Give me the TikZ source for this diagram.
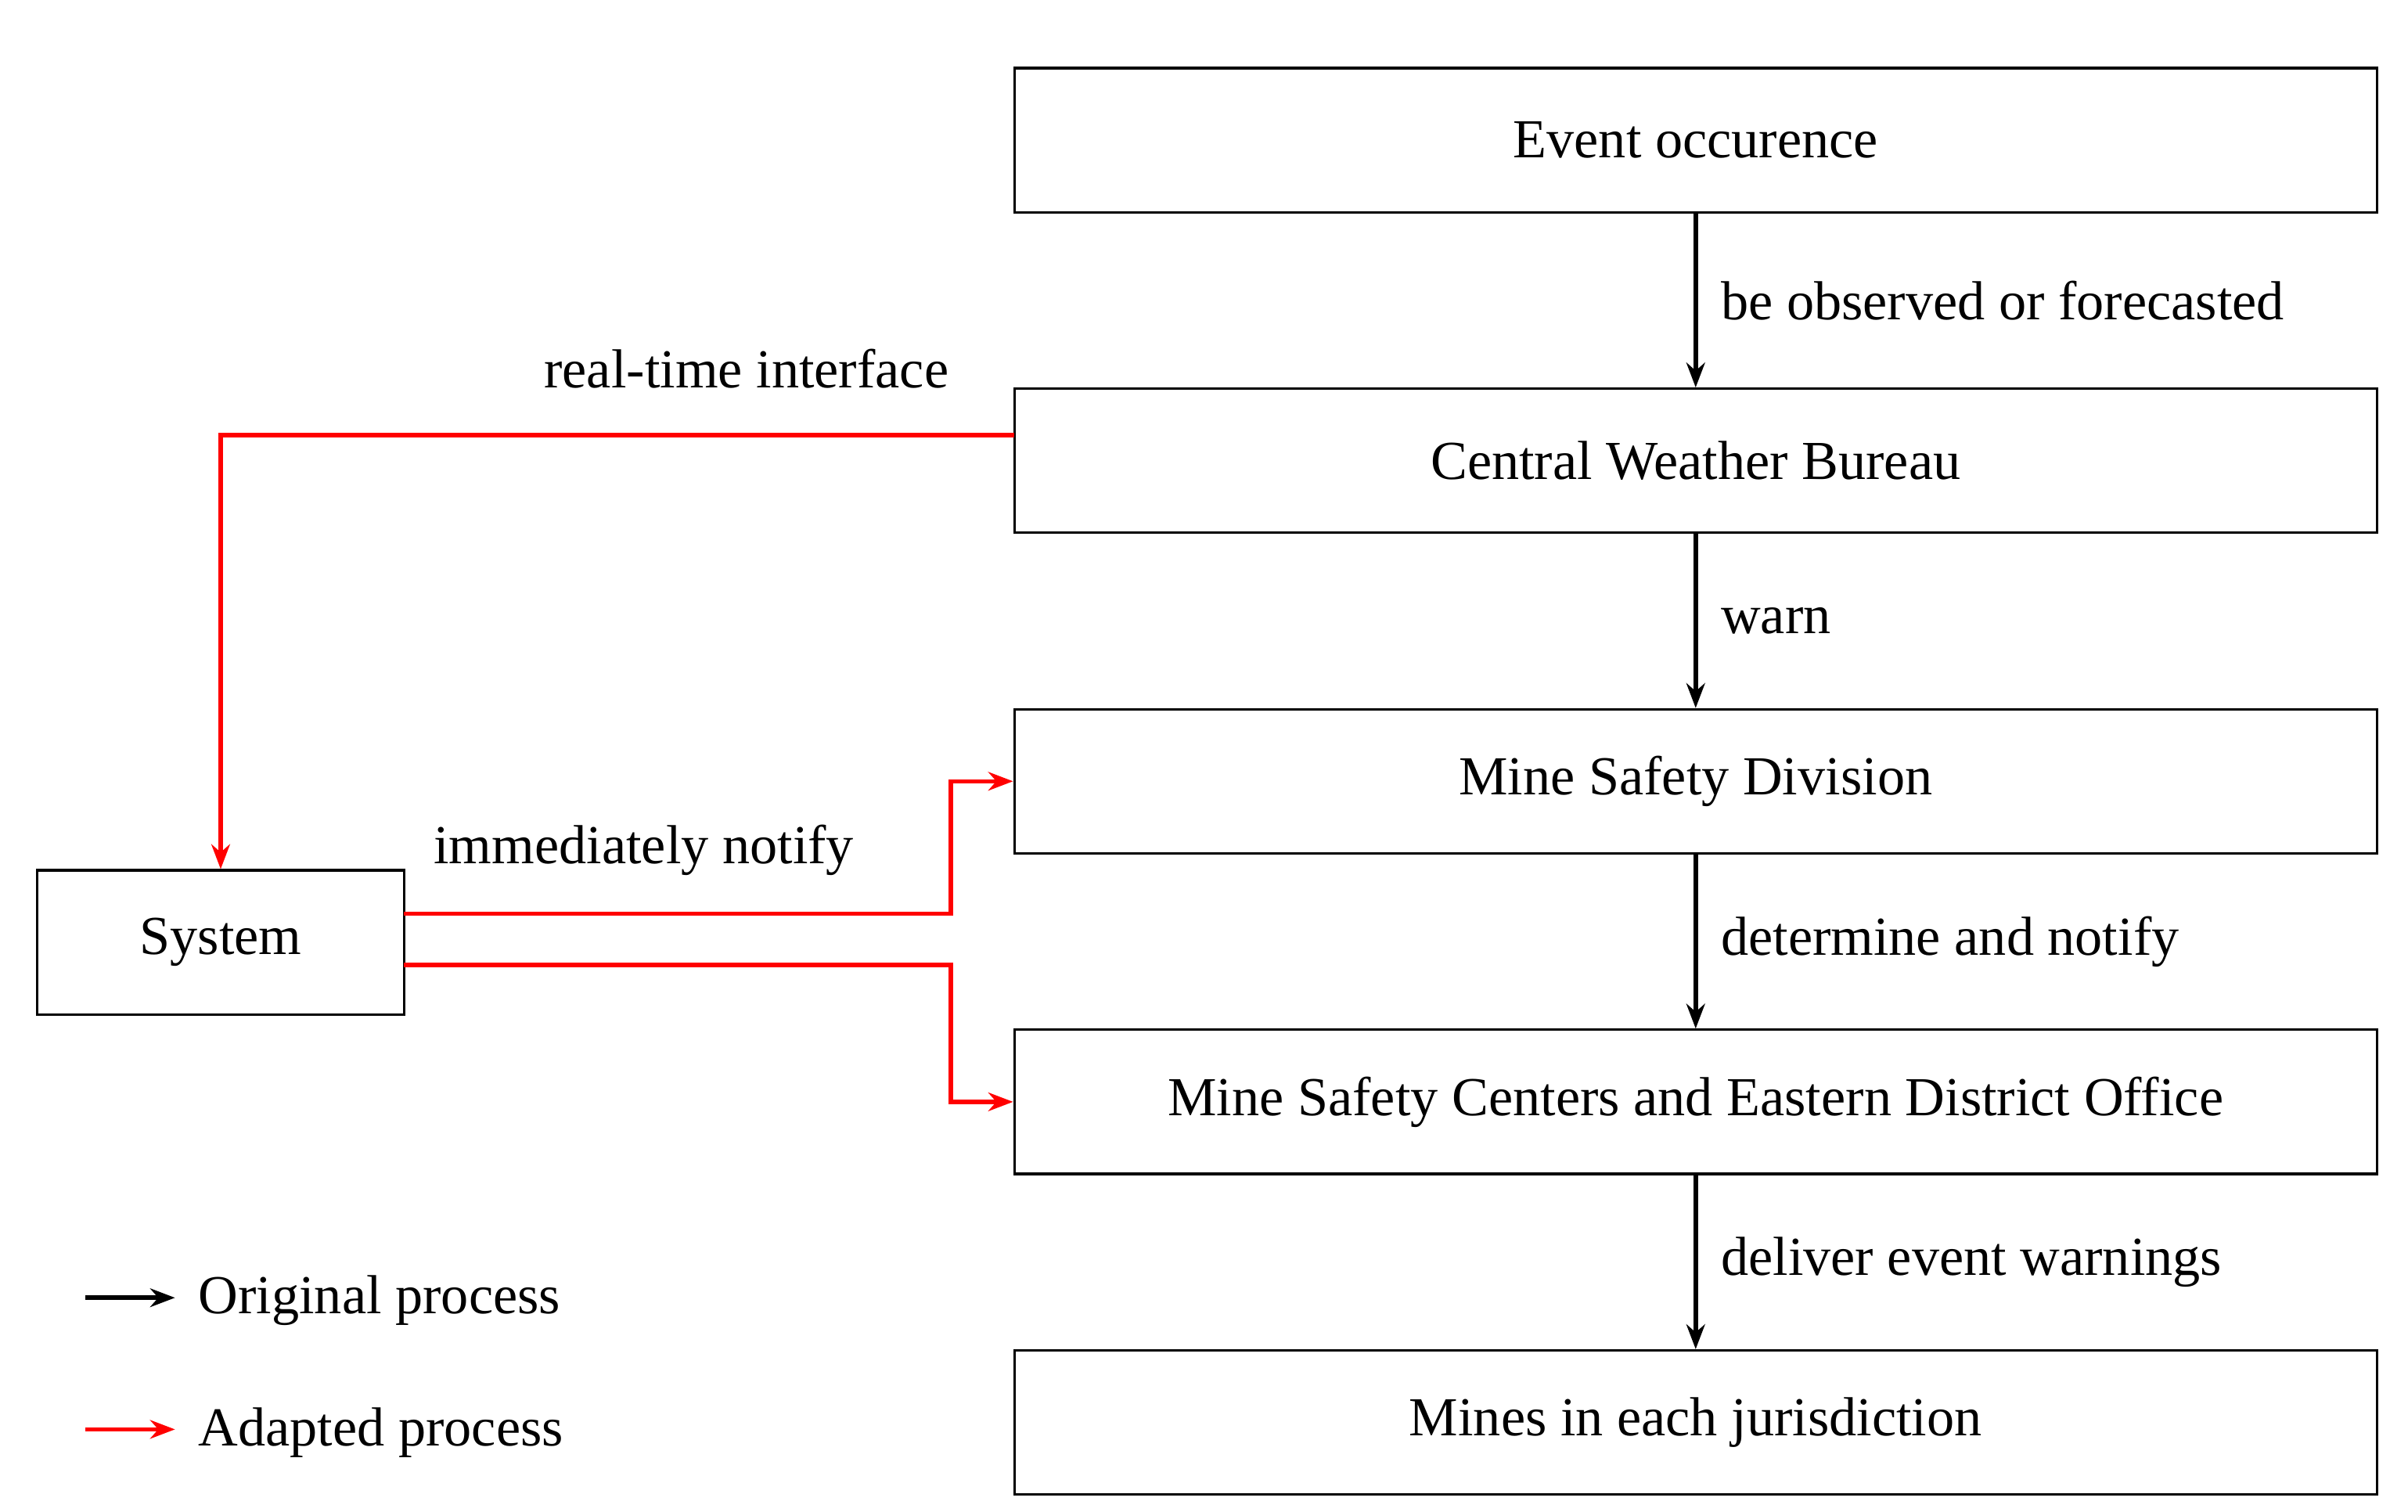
\documentclass[tikz,border=0pt]{standalone}
\usepackage{fontspec}
\setmainfont{Liberation Serif}
\usetikzlibrary{arrows.meta}
\begin{document}
\begin{tikzpicture}[x=1pt,y=-1pt,
  box/.style={draw,line width=1.6pt,minimum width=880pt,minimum height=93pt,inner sep=0pt,font=\fontsize{35.5}{40}\selectfont},
  lbl/.style={font=\fontsize{35.5}{40}\selectfont,anchor=west,inner sep=0pt},
  blk/.style={line width=2.8pt,-{Stealth[length=16pt,width=12pt]}},
  red/.style={line width=2.8pt,draw={rgb,255:red,255;green,0;blue,0},-{Stealth[length=16pt,width=12pt]}}]
\useasboundingbox (0,0) rectangle (1555,976);
\node[box] (b1) at (1095,90.5) {Event occurence};
\node[box] (b2) at (1095,297.5) {Central Weather Bureau};
\node[box] (b3) at (1095,504.5) {Mine Safety Division};
\node[box] (b4) at (1095,711.5) {Mine Safety Centers and Eastern District Office};
\node[box] (b5) at (1095,918.5) {Mines in each jurisdiction};
\node[box,minimum width=237pt] (sys) at (142.5,608.5) {System};
\draw[blk] (b1) -- (b2) node[lbl,pos=0.5,xshift=15pt]{be observed or forecasted};
\draw[blk] (b2) -- (b3) node[lbl,pos=0.5,xshift=15pt]{warn};
\draw[blk] (b3) -- (b4) node[lbl,pos=0.5,xshift=15pt]{determine and notify};
\draw[blk] (b4) -- (b5) node[lbl,pos=0.5,xshift=15pt]{deliver event warnings};
\coordinate (c2) at (655,281);
\draw[red] (c2) -| (sys.north);
\node[lbl,anchor=center] at (482,238) {real-time interface};
\coordinate (s1) at (261,590);
\coordinate (s2) at (261,623);
\draw[red] (s1) -- (614,590) |- (b3.west);
\draw[red] (s2) -- (614,623) |- (b4.west);
\node[lbl] at (280,549) {immediately notify};
\coordinate (l1a) at (55,838); \coordinate (l1b) at (113,838);
\coordinate (l2a) at (55,923); \coordinate (l2b) at (113,923);
\draw[blk] (l1a) -- (l1b);
\draw[red] (l2a) -- (l2b);
\node[lbl] at (128,840) {Original process};
\node[lbl] at (128,925) {Adapted process};
\end{tikzpicture}
\end{document}
